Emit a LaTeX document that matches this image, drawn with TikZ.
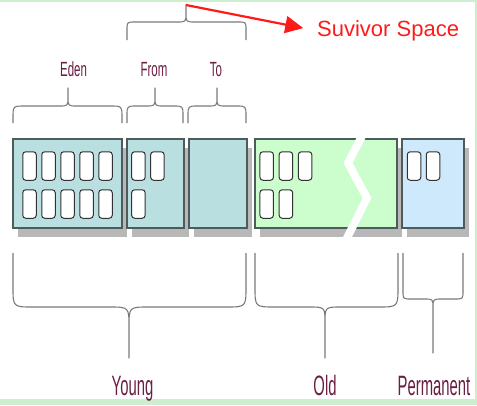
\documentclass[tikz,border=0pt]{standalone}
\usepackage{fontspec}
\setmainfont{Liberation Sans}
\newfontfamily\narrowsans{Liberation Sans}[FakeStretch=0.53]
\newfontfamily\smallnarrow{Liberation Sans}[FakeStretch=0.56]
\usetikzlibrary{calc,arrows.meta,shadows}
\definecolor{youngfill}{HTML}{B9DFE1}
\definecolor{oldfill}{HTML}{CCFDCC}
\definecolor{permfill}{HTML}{CDE9FB}
\definecolor{boxline}{HTML}{4F5B5B}
\definecolor{shadowgray}{HTML}{B8B8B8}
\definecolor{bracegray}{HTML}{7A7A7A}
\definecolor{lblcolor}{HTML}{6B1D42}
\definecolor{framegreen}{HTML}{CDEFCF}
\definecolor{survred}{HTML}{FF1A1A}
% brace: x1, x2, xtip, yend, ymid, ytip, end radius, tip radius
\newcommand{\gcbrace}[8]{%
  \draw[bracegray,line width=1.1pt,line join=round]
    (#1,#4) -- ($(#1,#5)!#7pt!(#1,#4)$) .. controls (#1,#5) .. (#1+#7,#5)
    -- (#3-#8,#5) .. controls (#3,#5) .. ($(#3,#5)!#8pt!(#3,#6)$) -- (#3,#6)
    -- ($(#3,#5)!#8pt!(#3,#6)$) .. controls (#3,#5) .. (#3+#8,#5)
    -- (#2-#7,#5) .. controls (#2,#5) .. ($(#2,#5)!#7pt!(#2,#4)$) -- (#2,#4);}

\begin{document}
\begin{tikzpicture}[x=1pt,y=-1pt,
  membox/.style={draw=boxline,line width=1.2pt,minimum height=89pt,inner sep=0pt,
    drop shadow={shadow xshift=5pt,shadow yshift=-9pt,fill=shadowgray,opacity=1}},
  cell/.style={draw=black!80,fill=white,line width=1pt,rounded corners=3pt,
    minimum width=13.5pt,minimum height=28.5pt,inner sep=0pt},
  partlbl/.style={text=lblcolor,inner sep=0pt,font=\smallnarrow\fontsize{20.5}{20.5}\selectfont},
  genlbl/.style={text=lblcolor,inner sep=0pt,font=\narrowsans\fontsize{28}{28}\selectfont},
  survtext/.style={text=survred,inner sep=0pt,font=\fontsize{22}{22}\selectfont},
  survarrow/.style={survred,line width=2.2pt,-{Triangle[length=18pt,width=17pt]}}]
  \useasboundingbox (0,0) rectangle (477,405);
  % screenshot frame
  \fill[framegreen] (0,0) rectangle (477,2);
  \fill[framegreen] (475,0) rectangle (477,405);
  \fill[framegreen] (0,399) rectangle (477,405);

  % memory areas
  \node[membox,fill=youngfill,minimum width=109pt] (eden) at (67.5,183.5) {};
  \node[membox,fill=youngfill,minimum width=57pt] (from) at (155.5,183.5) {};
  \node[membox,fill=youngfill,minimum width=58pt] (to) at (218,183.5) {};
  \node[membox,fill=oldfill,minimum width=142pt] (old) at (326,183.5) {};
  \node[membox,fill=permfill,minimum width=62pt] (perm) at (433,183.5) {};

  % objects
  \foreach \i in {0,...,4} {
    \node[cell] (eden-a-\i) at (29.5+19*\i,166) {};
    \node[cell] (eden-b-\i) at (29.5+19*\i,204) {};
  }
  \foreach \i in {0,1}
    \node[cell] (from-a-\i) at (138.4+19*\i,166) {};
  \node[cell] (from-b-0) at (138.4,204) {};
  \foreach \i in {0,1,2}
    \node[cell] (old-a-\i) at (266.7+19.2*\i,166) {};
  \foreach \i in {0,1}
    \node[cell] (old-b-\i) at (266.7+19.2*\i,204) {};
  \foreach \i in {0,1}
    \node[cell] (perm-a-\i) at (414+19*\i,166) {};

  % break in the old area
  \draw[white,line width=8pt] (362,136) -- (348,163) -- (367,198) -- (352,228) -- (346,240);

  % upper braces
  \gcbrace{13}{122}{68}{123}{106}{88}{12}{9}
  \gcbrace{127}{183}{155}{123}{106}{88}{10}{9}
  \gcbrace{188}{246}{217}{123}{106}{88}{10}{9}
  \gcbrace{127}{246}{186}{40}{22}{5}{8}{9}
  \node[partlbl,anchor=base] (edenlbl) at (73.5,76) {Eden};
  \node[partlbl,anchor=base] (fromlbl) at (154,76) {From};
  \node[partlbl,anchor=base] (tolbl) at (216,76) {To};

  % survivor note
  \coordinate (survtip) at (186,5);
  \node[survtext,anchor=base west] (survlbl) at (317,36.5) {Suvivor Space};
  \draw[survarrow,shorten >=14pt] (survtip) -- (survlbl.west);

  % lower braces
  \gcbrace{13}{246}{129}{253}{307}{358}{20}{20}
  \gcbrace{255}{398}{325}{253}{307}{358}{20}{16}
  \gcbrace{403}{463}{433}{253}{299}{353}{8}{9}
  \node[genlbl,anchor=base] (younglbl) at (132.5,395) {Young};
  \node[genlbl,anchor=base] (oldlbl) at (325,395) {Old};
  \node[genlbl,anchor=base] (permlbl) at (434,395) {Permanent};
\end{tikzpicture}
\end{document}
